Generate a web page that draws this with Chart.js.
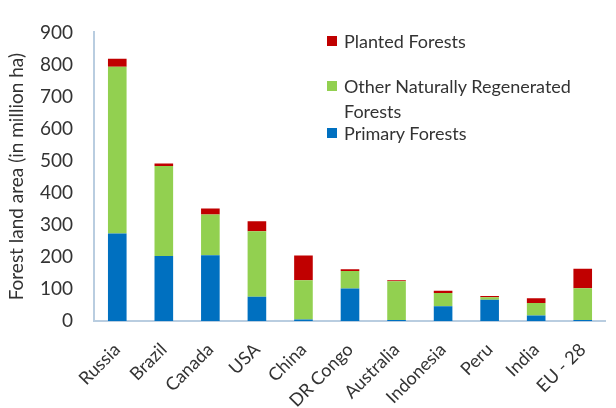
<!DOCTYPE html>
<html>
<head>
<meta charset="utf-8">
<script src="https://cdn.jsdelivr.net/npm/chart.js@4"></script>
<style>
  html, body { margin: 0; padding: 0; background: #fff; }
  #wrap { position: relative; width: 616px; height: 408px; overflow: hidden; }
  #legend { position: absolute; left: 327px; top: 29px; width: 280px; font-family: Lato, sans-serif; font-size: 18px; color: #333; }
  #legend .item { position: relative; padding-left: 17px; line-height: 25px; }
  #legend .box { position: absolute; left: 0; top: 7px; width: 10px; height: 10px; }
</style>
</head>
<body>
<div id="wrap">
  <canvas id="chart" width="616" height="408"></canvas>
  <div id="legend"></div>
</div>
<script>
const countries = ['Russia', 'Brazil', 'Canada', 'USA', 'China', 'DR Congo', 'Australia', 'Indonesia', 'Peru', 'India', 'EU - 28'];
const primary = [273, 203, 205, 76, 5, 101, 3, 46, 66, 17, 3];
const otherRegen = [520, 280, 127, 204, 122, 55, 121, 41, 8, 39, 99];
const planted = [25, 8, 19, 31, 77, 5, 3, 7, 4, 15, 61];
const yTicks = [0, 100, 200, 300, 400, 500, 600, 700, 800, 900];

const font = 'Lato, sans-serif';
const textColor = '#333';
const axisColor = '#b9cde0';

const ctx = document.getElementById('chart');
const chart = new Chart(ctx, {
    type: 'bar',
    data: {
        labels: countries,
        datasets: [
            { label: 'Primary Forests', data: primary, backgroundColor: '#0070c0' },
            { label: 'Other Naturally Regenerated Forests', data: otherRegen, backgroundColor: '#92d050' },
            { label: 'Planted Forests', data: planted, backgroundColor: '#c00000' },
        ],
    },
    options: {
        responsive: false,
        animation: false,
        layout: { padding: { top: 25, right: 0, left: 0, bottom: 0 } },
        datasets: { bar: { categoryPercentage: 0.8, barPercentage: 0.5 } },
        plugins: { legend: { display: false }, tooltip: { enabled: false } },
        scales: {
            x: {
                stacked: true,
                grid: { display: false, drawTicks: false },
                border: { display: true, color: axisColor, width: 2 },
                ticks: {
                    color: textColor,
                    font: { family: font, size: 18 },
                    maxRotation: 45,
                    minRotation: 45,
                    padding: 18,
                },
                afterFit: (scale) => { scale.height = 87; },
            },
            y: {
                stacked: true,
                min: 0,
                max: 900,
                afterBuildTicks: (scale) => { scale.ticks = yTicks.map((v) => ({ value: v })); },
                grid: { display: false, drawTicks: false },
                border: { display: true, color: axisColor, width: 2 },
                ticks: {
                    color: textColor,
                    font: { family: font, size: 19 },
                    padding: 21,
                },
                title: {
                    display: true,
                    text: 'Forest land area (in million ha)',
                    color: textColor,
                    font: { family: font, size: 19 },
                    padding: { top: 5, bottom: 0 },
                },
                afterFit: (scale) => { scale.width = 94; },
            },
        },
    },
});

// legend, top item first (reverse of stacking order)
const legendEl = document.getElementById('legend');
const gaps = [20, -3, 0];
chart.data.datasets.slice().reverse().forEach((ds, i) => {
    const item = document.createElement('div');
    item.className = 'item';
    item.style.marginBottom = gaps[i] + 'px';
    const box = document.createElement('span');
    box.className = 'box';
    box.style.background = ds.backgroundColor;
    item.appendChild(box);
    item.appendChild(document.createTextNode(ds.label));
    legendEl.appendChild(item);
});
</script>
</body>
</html>
